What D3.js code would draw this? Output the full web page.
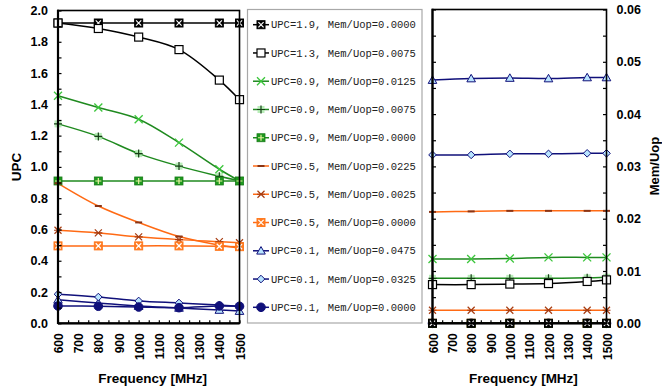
<!DOCTYPE html>
<html>
<head>
<meta charset="utf-8">
<script src="https://cdn.jsdelivr.net/npm/d3@7"></script>
<style>
  html, body { margin: 0; padding: 0; background: #fff; }
  svg { display: block; }
</style>
</head>
<body>
<svg id="chart" width="662" height="391"></svg>
<script>
// Operating frequencies (MHz)
const freqs = [600, 800, 1000, 1200, 1400, 1500];

// Legend text for each workload
const seriesLabels = [
  "UPC=1.9, Mem/Uop=0.0000",
  "UPC=1.3, Mem/Uop=0.0075",
  "UPC=0.9, Mem/Uop=0.0125",
  "UPC=0.9, Mem/Uop=0.0075",
  "UPC=0.9, Mem/Uop=0.0000",
  "UPC=0.5, Mem/Uop=0.0225",
  "UPC=0.5, Mem/Uop=0.0025",
  "UPC=0.5, Mem/Uop=0.0000",
  "UPC=0.1, Mem/Uop=0.0475",
  "UPC=0.1, Mem/Uop=0.0325",
  "UPC=0.1, Mem/Uop=0.0000"
];

// Measured UPC per frequency
const upc1  = [1.92, 1.92, 1.92, 1.92, 1.92, 1.92];
const upc2  = [1.92, 1.885, 1.83, 1.75, 1.555, 1.43];
const upc3  = [1.455, 1.38, 1.305, 1.155, 0.985, 0.91];
const upc4  = [1.275, 1.195, 1.085, 1.005, 0.94, 0.91];
const upc5  = [0.91, 0.91, 0.91, 0.91, 0.91, 0.91];
const upc6  = [0.895, 0.75, 0.645, 0.555, 0.50, 0.48];
const upc7  = [0.595, 0.578, 0.553, 0.535, 0.522, 0.515];
const upc8  = [0.495, 0.495, 0.495, 0.495, 0.492, 0.49];
const upc9  = [0.15, 0.13, 0.11, 0.098, 0.085, 0.078];
const upc10 = [0.186, 0.168, 0.143, 0.13, 0.117, 0.109];
const upc11 = [0.111, 0.109, 0.104, 0.10, 0.111, 0.109];

// Measured memory accesses per uop per frequency
const mem1  = [0, 0, 0, 0, 0, 0];
const mem2  = [0.0074, 0.0074, 0.0075, 0.0076, 0.0080, 0.0083];
const mem3  = [0.0123, 0.0123, 0.0124, 0.0126, 0.0126, 0.0126];
const mem4  = [0.0086, 0.0086, 0.0086, 0.0086, 0.0087, 0.0088];
const mem5  = [0, 0, 0, 0, 0, 0];
const mem6  = [0.0213, 0.0214, 0.0215, 0.0215, 0.0215, 0.0215];
const mem7  = [0.0025, 0.0025, 0.0025, 0.0025, 0.0025, 0.0025];
const mem8  = [0, 0, 0, 0, 0, 0];
const mem9  = [0.0465, 0.0468, 0.0469, 0.0468, 0.0470, 0.0470];
const mem10 = [0.0322, 0.0322, 0.0324, 0.0324, 0.0325, 0.0325];
const mem11 = [0, 0, 0, 0, 0, 0];

const upcSeries = [upc1, upc2, upc3, upc4, upc5, upc6, upc7, upc8, upc9, upc10, upc11];
const memSeries = [mem1, mem2, mem3, mem4, mem5, mem6, mem7, mem8, mem9, mem10, mem11];

// Axis ticks
const upcTicks = [0, 0.2, 0.4, 0.6, 0.8, 1.0, 1.2, 1.4, 1.6, 1.8, 2.0];
const memTicks = [0, 0.01, 0.02, 0.03, 0.04, 0.05, 0.06];
const freqTicks = [600, 700, 800, 900, 1000, 1100, 1200, 1300, 1400, 1500];

// Visual style per series: line colour and marker kind
const BLACK = "#000000", GREEN = "#1f8a1f", ORANGE = "#ff6a14", NAVY = "#10107a";
const styles = [
  { line: BLACK,  marker: "boxx" },
  { line: BLACK,  marker: "square" },
  { line: GREEN,  marker: "cross" },
  { line: GREEN,  marker: "plus" },
  { line: GREEN,  marker: "squareplus" },
  { line: ORANGE, marker: "dash" },
  { line: ORANGE, marker: "star" },
  { line: ORANGE, marker: "boxxorange" },
  { line: NAVY,   marker: "triangle" },
  { line: NAVY,   marker: "diamond" },
  { line: NAVY,   marker: "circle" }
];

const svg = d3.select("#chart");
const tickFont = "'Liberation Sans', Arial, Helvetica, sans-serif";

function drawMarker(g, kind, x, y) {
  const m = g.append("g").attr("transform", `translate(${x},${y})`);
  switch (kind) {
    case "boxx":
      m.append("rect").attr("x", -4).attr("y", -4).attr("width", 8).attr("height", 8)
        .attr("fill", "#000").attr("stroke", "#000").attr("stroke-width", 1);
      m.append("path").attr("d", "M-2.6,-2.6L2.6,2.6M-2.6,2.6L2.6,-2.6")
        .attr("stroke", "#fff").attr("stroke-width", 1.2);
      break;
    case "square":
      m.append("rect").attr("x", -4).attr("y", -4).attr("width", 8).attr("height", 8)
        .attr("fill", "#fff").attr("stroke", "#000").attr("stroke-width", 1.2);
      break;
    case "cross":
      m.append("path").attr("d", "M-4,-4L4,4M-4,4L4,-4")
        .attr("stroke", "#3cc63c").attr("stroke-width", 1.3).attr("fill", "none");
      break;
    case "plus":
      m.append("rect").attr("x", -3.5).attr("y", -3.5).attr("width", 7).attr("height", 7)
        .attr("fill", "#a6e8a6").attr("opacity", 0.8);
      m.append("path").attr("d", "M-4,0L4,0M0,-4L0,4")
        .attr("stroke", "#143c14").attr("stroke-width", 1.2);
      break;
    case "squareplus":
      m.append("rect").attr("x", -4).attr("y", -4).attr("width", 8).attr("height", 8)
        .attr("fill", "#1e9a1e").attr("stroke", "#1a7a1a").attr("stroke-width", 0.8);
      m.append("path").attr("d", "M-3,0L3,0M0,-3L0,3")
        .attr("stroke", "#e8f0a0").attr("stroke-width", 1.2);
      break;
    case "dash":
      m.append("path").attr("d", "M-3.5,0L3.5,0")
        .attr("stroke", "#8a3414").attr("stroke-width", 2);
      break;
    case "star":
      m.append("path").attr("d", "M-3.5,-3.5L3.5,3.5M-3.5,3.5L3.5,-3.5M-4,0L4,0")
        .attr("stroke", "#a83c10").attr("stroke-width", 1.2);
      break;
    case "boxxorange":
      m.append("rect").attr("x", -4).attr("y", -4).attr("width", 8).attr("height", 8)
        .attr("fill", "#ff7a20").attr("stroke", "#ff7a20").attr("stroke-width", 1);
      m.append("path").attr("d", "M-2.6,-2.6L2.6,2.6M-2.6,2.6L2.6,-2.6")
        .attr("stroke", "#fff").attr("stroke-width", 1.2);
      break;
    case "triangle":
      m.append("path").attr("d", "M0,-4.2L4.3,3.3L-4.3,3.3Z")
        .attr("fill", "#b8e4ff").attr("stroke", NAVY).attr("stroke-width", 1);
      break;
    case "diamond":
      m.append("path").attr("d", "M0,-3.8L3.8,0L0,3.8L-3.8,0Z")
        .attr("fill", "#b8e4ff").attr("stroke", NAVY).attr("stroke-width", 1);
      break;
    case "circle":
      m.append("circle").attr("r", 4.3).attr("fill", NAVY).attr("stroke", NAVY);
      break;
  }
}

// Draws one framed panel with the given data on a linear y scale
function drawPanel(opts) {
  const { x0, x1, y0, y1, yMax, yTicks, yMinorStep, data, side, order } = opts;
  const x = d3.scaleLinear().domain([600, 1500]).range([x0, x1]);
  const y = d3.scaleLinear().domain([0, yMax]).range([y1, y0]);
  const g = svg.append("g");

  // series lines and markers
  const line = d3.line().x((d, i) => x(freqs[i])).y(d => y(d)).curve(d3.curveCatmullRom.alpha(0.5));
  const lines = g.append("g");
  const marks = g.append("g");
  order.forEach(s => {
    lines.append("path").datum(data[s]).attr("d", line)
      .attr("fill", "none").attr("stroke", styles[s].line).attr("stroke-width", 1.5);
  });
  order.forEach(s => {
    data[s].forEach((v, i) => drawMarker(marks, styles[s].marker, x(freqs[i]), y(v)));
  });

  // frame
  const frame = g.append("g");
  frame.append("rect").attr("x", x0).attr("y", y0).attr("width", x1 - x0).attr("height", y1 - y0)
    .attr("fill", "none").attr("stroke", "#000").attr("stroke-width", 1.6);
  frame.append("line").attr("x1", x0).attr("x2", x0).attr("y1", y0 - 0.8).attr("y2", y1 + 0.8)
    .attr("stroke", "#000").attr("stroke-width", 2.2);
  frame.append("line").attr("x1", x0).attr("x2", x1).attr("y1", y1).attr("y2", y1)
    .attr("stroke", "#000").attr("stroke-width", 2.2);

  // inward ticks along the bottom (every 50 MHz)
  const xMinor = d3.range(600, 1501, 50);
  const bottom = d3.axisBottom(x).tickValues(xMinor).tickSize(-3).tickFormat("");
  g.append("g").attr("transform", `translate(0,${y1})`).call(bottom)
    .call(a => a.select(".domain").remove())
    .call(a => a.selectAll("line").attr("stroke", "#000").attr("stroke-width", 1.2));

  // frequency labels, rotated
  const xl = d3.axisBottom(x).tickValues(freqTicks).tickSize(0).tickPadding(0).tickFormat(d3.format("d"));
  const xa = g.append("g").attr("transform", `translate(0,${y1})`).call(xl);
  xa.select(".domain").remove();
  xa.selectAll("text")
    .attr("font-family", tickFont).attr("font-weight", "bold").attr("font-size", 12).attr("fill", "#000")
    .attr("text-anchor", "end").attr("dy", null).attr("y", null)
    .attr("transform", "translate(4.5,10) rotate(-90)");

  // inward ticks on the value sides
  const yMinor = d3.range(0, yMax + yMinorStep / 2, yMinorStep);
  const sides = side === "left" ? [x0] : [x0, x1];
  sides.forEach(px => {
    const ax = px === x0 ? d3.axisLeft(y) : d3.axisRight(y);
    g.append("g").attr("transform", `translate(${px},0)`)
      .call(ax.tickValues(yMinor).tickSize(-3.5).tickFormat(""))
      .call(a => a.select(".domain").remove())
      .call(a => a.selectAll("line").attr("stroke", "#000").attr("stroke-width", 1.2));
  });

  // value labels
  const fmt = side === "left" ? d3.format(".1f") : d3.format(".2f");
  const labAxis = side === "left" ? d3.axisLeft(y) : d3.axisRight(y);
  const ya = g.append("g").attr("transform", `translate(${side === "left" ? x0 : x1},0)`)
    .call(labAxis.tickValues(yTicks).tickSize(0).tickPadding(10).tickFormat(fmt));
  ya.select(".domain").remove();
  ya.selectAll("text").attr("font-family", tickFont).attr("font-weight", "bold")
    .attr("font-size", 12.5).attr("fill", "#000");

  // x title
  g.append("text").attr("x", (x0 + x1) / 2 + 4).attr("y", 383)
    .attr("text-anchor", "middle").attr("font-family", tickFont).attr("font-weight", "bold")
    .attr("font-size", 13.5).text("Frequency [MHz]");
  return { x, y };
}

// UPC panel
drawPanel({
  x0: 58, x1: 239.5, y0: 10.5, y1: 323.3, yMax: 2.0,
  yTicks: upcTicks, yMinorStep: 0.1, data: upcSeries, side: "left",
  order: d3.range(11)
});
svg.append("text").attr("transform", "translate(21,167) rotate(-90)")
  .attr("text-anchor", "middle").attr("font-family", tickFont).attr("font-weight", "bold")
  .attr("font-size", 13.5).text("UPC");

// Mem/Uop panel
drawPanel({
  x0: 432.5, x1: 606.5, y0: 9.5, y1: 323.3, yMax: 0.06,
  yTicks: memTicks, yMinorStep: 0.005, data: memSeries, side: "right",
  order: d3.range(10, -1, -1)
});
svg.append("text").attr("transform", "translate(659,166) rotate(-90)")
  .attr("text-anchor", "middle").attr("font-family", tickFont).attr("font-weight", "bold")
  .attr("font-size", 13).text("Mem/Uop");

// Legend
const lg = svg.append("g");
lg.append("rect").attr("x", 247.5).attr("y", 9.5).attr("width", 174.5).attr("height", 313.5)
  .attr("fill", "#fff").attr("stroke", "#a8a8a8").attr("stroke-width", 1.2);
const legendY = d3.scalePoint().domain(d3.range(11)).range([24.7, 307.3]);
seriesLabels.forEach((label, s) => {
  const cy = legendY(s);
  lg.append("line").attr("x1", 253).attr("x2", 269).attr("y1", cy).attr("y2", cy)
    .attr("stroke", styles[s].line).attr("stroke-width", 1.5);
  drawMarker(lg, styles[s].marker, 261, cy);
  lg.append("text").attr("x", 271).attr("y", cy).attr("dy", "0.35em")
    .attr("font-family", "'Liberation Mono', 'Courier New', monospace")
    .attr("font-size", 10.5).attr("fill", "#222").text(label);
});
</script>
</body>
</html>
